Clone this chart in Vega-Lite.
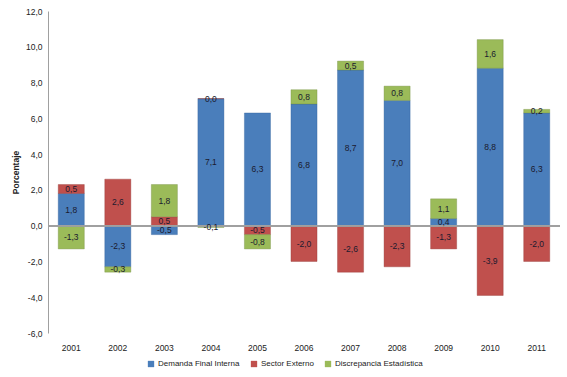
{
  "$schema": "https://vega.github.io/schema/vega-lite/v6.json",
  "width": 512,
  "height": 322,
  "autosize": {"type": "none"},
  "padding": {"left": 48, "top": 11, "right": 7, "bottom": 44},
  "background": "white",
  "config": {
    "locale": {"number": {"decimal": ",", "thousands": ".", "grouping": [3], "currency": ["", ""], "minus": "-"}},
    "font": "Liberation Sans",
    "view": {"stroke": null},
    "axisY": {"titleFontSize": 8.5, "titleFontWeight": "bold", "titleColor": "#222", "titlePadding": 5, "values": [-6, -4, -2, 0, 2, 4, 6, 8, 10, 12], "labelOverlap": false, "labelFlush": false, "format": ".1f", "grid": false, "ticks": false, "domainColor": "#a0a0a0", "labelFontSize": 8.5, "labelColor": "#222", "labelPadding": 6}
  },
  "data": {
    "values": [
      {"anio": "2001", "serie": "Demanda Final Interna", "valor": 1.8},
      {"anio": "2001", "serie": "Sector Externo", "valor": 0.5},
      {"anio": "2001", "serie": "Discrepancia Estadística", "valor": -1.3},
      {"anio": "2002", "serie": "Demanda Final Interna", "valor": -2.3},
      {"anio": "2002", "serie": "Sector Externo", "valor": 2.6},
      {"anio": "2002", "serie": "Discrepancia Estadística", "valor": -0.3},
      {"anio": "2003", "serie": "Demanda Final Interna", "valor": -0.5},
      {"anio": "2003", "serie": "Sector Externo", "valor": 0.5},
      {"anio": "2003", "serie": "Discrepancia Estadística", "valor": 1.8},
      {"anio": "2004", "serie": "Demanda Final Interna", "valor": 7.1},
      {"anio": "2004", "serie": "Sector Externo", "valor": 0.0},
      {"anio": "2004", "serie": "Discrepancia Estadística", "valor": -0.1},
      {"anio": "2005", "serie": "Demanda Final Interna", "valor": 6.3},
      {"anio": "2005", "serie": "Sector Externo", "valor": -0.5},
      {"anio": "2005", "serie": "Discrepancia Estadística", "valor": -0.8},
      {"anio": "2006", "serie": "Demanda Final Interna", "valor": 6.8},
      {"anio": "2006", "serie": "Sector Externo", "valor": -2.0},
      {"anio": "2006", "serie": "Discrepancia Estadística", "valor": 0.8},
      {"anio": "2007", "serie": "Demanda Final Interna", "valor": 8.7},
      {"anio": "2007", "serie": "Sector Externo", "valor": -2.6},
      {"anio": "2007", "serie": "Discrepancia Estadística", "valor": 0.5},
      {"anio": "2008", "serie": "Demanda Final Interna", "valor": 7.0},
      {"anio": "2008", "serie": "Sector Externo", "valor": -2.3},
      {"anio": "2008", "serie": "Discrepancia Estadística", "valor": 0.8},
      {"anio": "2009", "serie": "Demanda Final Interna", "valor": 0.4},
      {"anio": "2009", "serie": "Sector Externo", "valor": -1.3},
      {"anio": "2009", "serie": "Discrepancia Estadística", "valor": 1.1},
      {"anio": "2010", "serie": "Demanda Final Interna", "valor": 8.8},
      {"anio": "2010", "serie": "Sector Externo", "valor": -3.9},
      {"anio": "2010", "serie": "Discrepancia Estadística", "valor": 1.6},
      {"anio": "2011", "serie": "Demanda Final Interna", "valor": 6.3},
      {"anio": "2011", "serie": "Sector Externo", "valor": -2.0},
      {"anio": "2011", "serie": "Discrepancia Estadística", "valor": 0.2}
    ]
  },
  "transform": [
    {"calculate": "indexof(['Demanda Final Interna','Sector Externo','Discrepancia Estadística'], datum.serie)", "as": "orden"},
    {"stack": "valor", "groupby": ["anio"], "sort": [{"field": "orden", "order": "ascending"}], "as": ["v0", "v1"]},
    {"calculate": "(datum.v0 + datum.v1) / 2", "as": "vmid"}
  ],
  "encoding": {
    "x": {
      "field": "anio", "type": "nominal",
      "scale": {"paddingInner": 0.44, "paddingOuter": 0.22},
      "axis": {"title": null, "labelAngle": 0, "domain": false, "ticks": false, "labelFontSize": 8.5, "labelColor": "#222", "labelPadding": 10}
    }
  },
  "layer": [
    {
      "mark": {"type": "bar", "strokeWidth": 0.6, "strokeOpacity": 0.6},
      "encoding": {
        "y": {
          "field": "v0", "type": "quantitative", "title": "Porcentaje",
          "scale": {"domain": [-6, 12], "nice": false}
        },
        "y2": {"field": "v1"},
        "color": {
          "field": "serie", "type": "nominal",
          "scale": {"domain": ["Demanda Final Interna", "Sector Externo", "Discrepancia Estadística"], "range": ["#4a7ebb", "#c0504d", "#9bbb59"]},
          "legend": {"title": null, "orient": "none", "legendX": 99, "legendY": 349, "direction": "horizontal", "symbolType": "square", "symbolSize": 40, "symbolStrokeWidth": 0, "labelFontSize": 8, "labelColor": "#222", "columnPadding": 10, "padding": 0, "labelOffset": 3}
        },
        "stroke": {
          "field": "serie", "type": "nominal",
          "scale": {"domain": ["Demanda Final Interna", "Sector Externo", "Discrepancia Estadística"], "range": ["#2c5d96", "#923633", "#71893f"]},
          "legend": null
        }
      }
    },
    {
      "mark": {"type": "rule", "color": "#a0a0a0", "strokeWidth": 1},
      "encoding": {"y": {"datum": 0, "type": "quantitative", "title": "Porcentaje"}, "x": {"value": 0}, "x2": {"value": 512}}
    },
    {
      "mark": {"type": "text", "fontSize": 8.5, "color": "#1a1a2e"},
      "encoding": {
        "y": {"field": "vmid", "type": "quantitative", "title": "Porcentaje"},
        "text": {"field": "valor", "type": "quantitative", "format": ".1f"}
      }
    }
  ]
}
